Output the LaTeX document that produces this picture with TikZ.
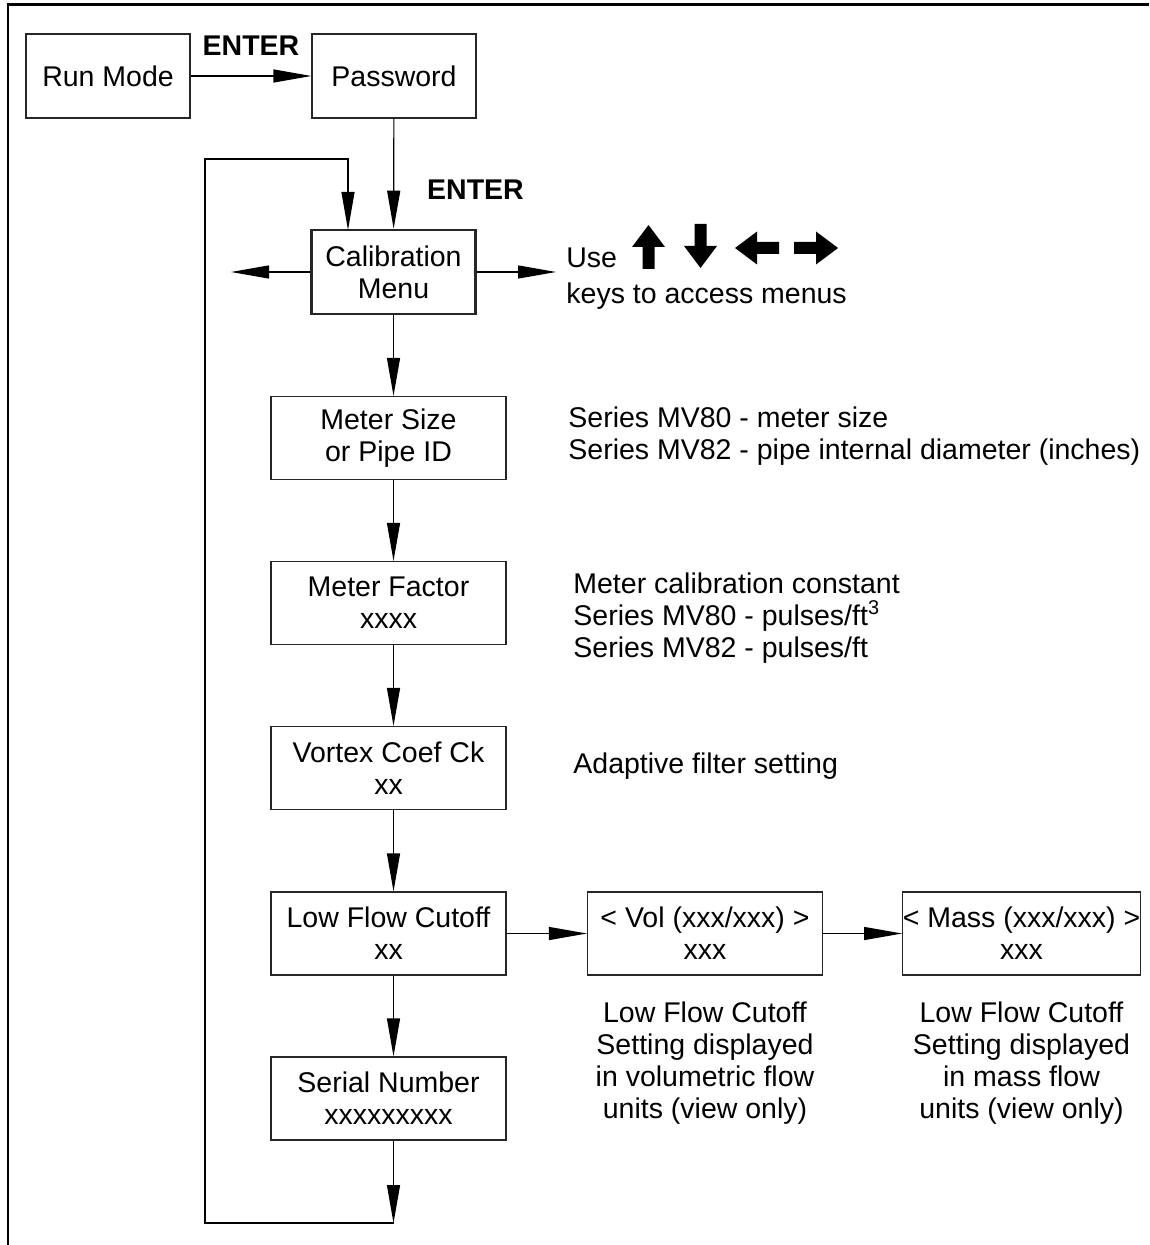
\documentclass[tikz,border=0pt]{standalone}
\usepackage{fontspec}
\setmainfont{Liberation Sans}
\usetikzlibrary{arrows.meta}

\tikzset{
  keyarrow/.pic={\fill (-6,22) -- (-6,0) -- (-16.5,0) -- (0,-22) -- (16.5,0) -- (6,0) -- (6,22) -- cycle;}
}

\begin{document}
\begin{tikzpicture}[
  x=0.5pt, y=-0.5pt,
  font=\fontsize{14.25}{16}\selectfont,
  box/.style={draw=black!85, line width=0.6pt, inner sep=0pt,
              minimum width=82pt, minimum height=42pt, align=center},
  widebox/.style={box, minimum width=117.5pt, minimum height=41.5pt},
  menubox/.style={box, line width=1.3pt},
  enterlabel/.style={font=\fontsize{14.25}{16}\selectfont\bfseries},
  desc/.style={align=left, anchor=north west, inner sep=0pt},
  footnote/.style={align=center, anchor=north, inner sep=0pt},
  arrow/.style={-{Triangle[length=19pt, width=6.5pt]}, line width=0.6pt}
]
  \useasboundingbox (0,0) rectangle (1149,1245);
  \draw[line width=1.4pt] (8,1245) -- (8,4.7) -- (1149,4.7);

  \node[box] (run) at (108,76) {Run Mode};
  \node[box] (pass) at (394,76) {Password};
  \node[enterlabel] (enter1) at (251,46) {ENTER};
  \node[menubox] (cal) at (393.5,272) {Calibration\\Menu};
  \node[enterlabel] (enter2) at (475.5,190) {ENTER};

  \node[widebox] (msize) at (388.5,438) {Meter Size\\or Pipe ID};
  \node[widebox] (mfactor) at (388.5,603) {Meter Factor\\xxxx};
  \node[widebox] (vortex) at (388.5,768) {Vortex Coef Ck\\xx};
  \node[widebox] (lfc) at (388.5,933.5) {Low Flow Cutoff\\xx};
  \node[widebox] (serial) at (388.5,1098.5) {Serial Number\\xxxxxxxxx};
  \node[widebox] (vol) at (705,933.5) {< Vol (xxx/xxx) >\\xxx};
  \node[widebox] (mass) at (1021.5,933.5) {< Mass (xxx/xxx) >\\xxx};

  % notes on the right
  \node[anchor=base west, inner sep=0pt] (use) at (566,268) {Use};
  \node[anchor=base west, inner sep=0pt] (keys) at (566,304) {keys to access menus};
  \pic at (648.5,247) {keyarrow};
  \pic[rotate=180] at (700.5,246) {keyarrow};
  \pic[rotate=90] at (757,248) {keyarrow};
  \pic[rotate=-90] at (816,248) {keyarrow};

  \node[desc] (msizenote) at (568,406) {Series MV80 - meter size\\Series MV82 - pipe internal diameter (inches)};
  \node[desc] (mfactornote) at (573,572) {Meter calibration constant\\Series MV80 - pulses/ft\textsuperscript{3}\\Series MV82 - pulses/ft};
  \node[desc] (vortexnote) at (573,752) {Adaptive filter setting};
  \node[footnote] (volnote) at (705,1001) {Low Flow Cutoff\\Setting displayed\\in volumetric flow\\units (view only)};
  \node[footnote] (massnote) at (1021.5,1001) {Low Flow Cutoff\\Setting displayed\\in mass flow\\units (view only)};

  \coordinate (calleft) at (231,272);
  \coordinate (calright) at (556,272);
  \coordinate (loopend) at (393.5,1223);
  \coordinate (loopcorner) at (205,1223);
  \coordinate (looptop) at (205,159);
  \coordinate (loopin) at (348,230);

  \draw[arrow] (run) -- (pass);
  \draw[arrow] (pass) -- (cal);
  \draw[arrow] (cal.west) -- (calleft);
  \draw[arrow] (cal.east) -- (calright);
  \draw[arrow] (cal.south) -- (msize.north -| cal.south);
  \draw[arrow] (msize.south -| cal.south) -- (mfactor.north -| cal.south);
  \draw[arrow] (mfactor.south -| cal.south) -- (vortex.north -| cal.south);
  \draw[arrow] (vortex.south -| cal.south) -- (lfc.north -| cal.south);
  \draw[arrow] (lfc.south -| cal.south) -- (serial.north -| cal.south);
  \draw[arrow] (serial.south -| cal.south) -- (loopend);
  \draw[arrow] (loopend) -- (loopcorner) -- (looptop) -| (loopin);
  \draw[arrow] (lfc) -- (vol);
  \draw[arrow] (vol) -- (mass);
\end{tikzpicture}
\end{document}
